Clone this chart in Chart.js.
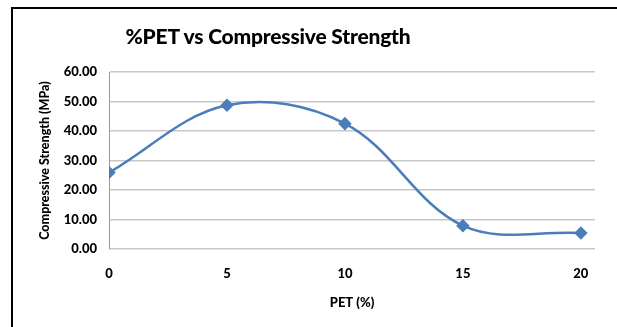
<!DOCTYPE html>
<html>
<head>
<meta charset="utf-8">
<script src="https://cdn.jsdelivr.net/npm/chart.js@4/dist/chart.umd.min.js"></script>
<style>
  html, body { margin: 0; padding: 0; background: #fff; }
  #wrap { position: relative; width: 617px; height: 327px; overflow: hidden; }
  #frame { position: absolute; left: 11px; top: 7px; width: 620px; height: 330px;
           border-top: 2px solid #000; border-left: 2px solid #000; box-sizing: border-box; }
  #title { position: absolute; left: 68px; width: 400px; top: 23px; text-align: center;
           font-family: Lato, "Open Sans", sans-serif; font-weight: 900; font-size: 21px; color: #000;
           letter-spacing: -0.2px; }
  canvas { position: absolute; left: 0; top: 0; }
</style>
</head>
<body>
<div id="wrap">
  <div id="frame"></div>
  <canvas id="c" width="617" height="327"></canvas>
  <div id="title">%PET vs Compressive Strength</div>
</div>
<script>
const petPercent = [0, 5, 10, 15, 20];
const strengthMPa = [25.9, 48.7, 42.5, 7.9, 5.4];
const xTicks = [0, 5, 10, 15, 20];
const yTicks = [0, 10, 20, 30, 40, 50, 60];
const xTitle = 'PET (%)';
const yTitle = 'Compressive Strength (MPa)';

const points = petPercent.map((x, i) => ({ x: x, y: strengthMPa[i] }));
const fam = 'Lato, "Open Sans", sans-serif';
const font = { family: fam, weight: '900', size: 13 };

new Chart(document.getElementById('c'), {
  type: 'scatter',
  data: {
    datasets: [{
      data: points,
      showLine: true,
      borderColor: '#4a7ebb',
      backgroundColor: '#4a7ebb',
      borderWidth: 2.5,
      tension: 0.36,
      pointStyle: 'rectRot',
      pointRadius: 5,
      pointHoverRadius: 5
    }]
  },
  options: {
    responsive: false,
    animation: false,
    events: [],
    layout: { padding: { left: 33, top: 72, right: 22, bottom: 0 } },
    plugins: { legend: { display: false }, tooltip: { enabled: false } },
    scales: {
      x: {
        type: 'linear',
        min: 0,
        max: 20.6,
        afterBuildTicks: s => { s.ticks = xTicks.map(v => ({ value: v })); },
        afterFit: s => { s.height = 78; },
        grid: { display: false, drawTicks: false },
        border: { display: false },
        ticks: { color: '#000', font: font, padding: 17, maxRotation: 0 },
        title: { display: true, text: xTitle, color: '#000', align: 'center',
                 font: { family: fam, weight: '900', size: 13 },
                 padding: { top: 0, bottom: 16 } }
      },
      y: {
        min: 0,
        max: 60,
        afterBuildTicks: s => { s.ticks = yTicks.map(v => ({ value: v })); },
        afterFit: s => { s.width = 76; },
        grid: { color: '#c8c8c8', lineWidth: 1.5, drawTicks: false },
        border: { display: true, color: '#9a9a9a', width: 1 },
        ticks: { color: '#000', font: font, padding: 12, callback: v => v.toFixed(2) },
        title: { display: true, text: yTitle, color: '#000',
                 font: { family: fam, weight: '900', size: 12.5 },
                 padding: { top: 4, bottom: 4 } }
      }
    }
  }
});
</script>
</body>
</html>
